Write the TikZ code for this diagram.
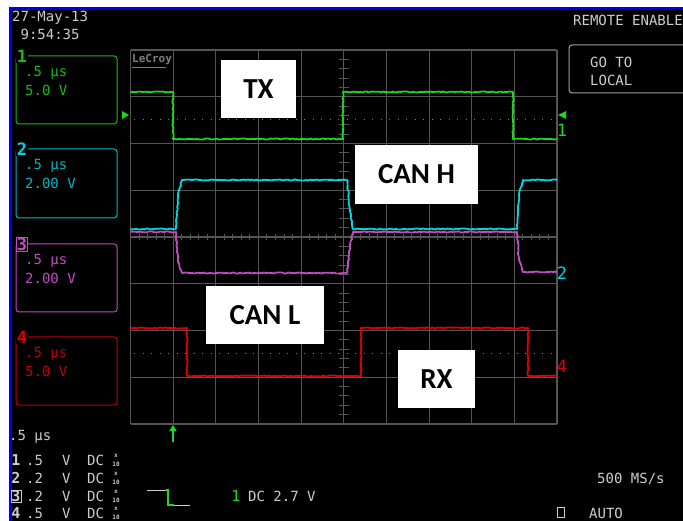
\documentclass[tikz,border=0pt]{standalone}
\usepackage{fontspec}
\setmainfont{Carlito}
\newfontfamily\scopefont{DejaVu Sans Mono}
\usetikzlibrary{arrows.meta,decorations.pathmorphing}
\definecolor{scgreen}{RGB}{30,215,30}
\definecolor{scgreentxt}{RGB}{20,190,20}
\definecolor{sccyan}{RGB}{0,215,225}
\definecolor{scmag}{RGB}{195,75,195}
\definecolor{scred}{RGB}{225,0,0}
\definecolor{scgrid}{RGB}{85,85,85}
\definecolor{sctext}{RGB}{205,205,205}
\definecolor{scblue}{RGB}{0,0,235}
\begin{document}
\begin{tikzpicture}[x=1pt,y=-1pt,
  scopetxt/.style={font=\scopefont\fontsize{14}{14}\selectfont, inner sep=0pt, anchor=west, text=sctext},
  chlabel/.style={font=\scopefont\bfseries\fontsize{17}{17}\selectfont, inner sep=0.6pt, fill=black},
  chbox/.style={rounded corners=3pt, line width=1pt},
  gridline/.style={draw=scgrid, line width=1.1pt},
  tickline/.style={draw=scgrid, line width=1pt},
  trace/.style={line width=1.8pt, line join=round, decorate, decoration={random steps, segment length=2pt, amplitude=0.6pt}},
  sigbox/.style={fill=white, inner sep=0pt, font=\bfseries\fontsize{29}{29}\selectfont, text=black},
  refdots/.style={draw=gray, line width=1pt, dash pattern=on 1pt off 7.5pt},
  tinytxt/.style={font=\scopefont\bfseries\fontsize{6}{6}\selectfont, inner sep=0pt, text=sctext},
]
\pgfmathsetseed{7}
\useasboundingbox (0,0) rectangle (683,521);
\fill[white] (0,0) rectangle (683,521);
\fill[black] (12,10) rectangle (683,521);
\fill[scblue] (9,7) rectangle (683,10);
\fill[scblue] (9,7) rectangle (12,521);

% grid
\foreach \i in {0,...,10} \draw[gridline] ({130.5+42.65*\i},50) -- ({130.5+42.65*\i},424);
\foreach \j in {0,...,8} \draw[gridline] (130.5,{50+46.75*\j}) -- (557,{50+46.75*\j});
\foreach \k in {1,...,49} \draw[tickline] ({130.5+8.53*\k},234) -- ++(0,6);
\foreach \k in {1,...,39} \draw[tickline] (338.75,{50+9.35*\k}) -- ++(10,0);

% reference dotted levels
\draw[refdots] (134,120) -- (557,120);
\draw[refdots] (134,354) -- (557,354);

% LeCroy logo
\node[font=\scopefont\bfseries\fontsize{11}{11}\selectfont, text=gray, inner sep=0pt, anchor=west] (logo) at (132,60) {LeCroy};
\draw[gray, line width=1pt] (132,68) -- (166,68);

% traces
\draw[trace, scgreen] (130.5,92) -- (173,92) -- (173,139) -- (343,139) -- (343,92) -- (513,92) -- (513,139) -- (557,139);
\draw[trace, scmag] (130.5,232) -- (176,232) -- (178,262) -- (182,273) -- (347,273) -- (350,245) -- (353,232) -- (517,232) -- (519,260) -- (523,272) -- (557,272);
\draw[trace, sccyan] (130.5,229) -- (176,229) -- (178,195) -- (182,180) -- (347,180) -- (350,210) -- (353,229) -- (517,229) -- (519,195) -- (523,180) -- (557,180);
\draw[trace, scred] (130.5,328) -- (187,328) -- (187,376) -- (361,376) -- (361,328) -- (528,328) -- (528,376) -- (557,376);

% trace markers
\fill[scgreen] (122,111) -- (129,115) -- (122,119) -- cycle;
\fill[scgreen] (566,111) -- (558,115) -- (566,119) -- cycle;
\node[font=\scopefont\fontsize{17}{17}\selectfont, text=scgreen, inner sep=0pt] (m1) at (562,130) {1};
\node[font=\scopefont\fontsize{17}{17}\selectfont, text=sccyan, inner sep=0pt] (m2) at (562,273) {2};
\node[font=\scopefont\fontsize{17}{17}\selectfont, text=scred, inner sep=0pt] (m4) at (562,366) {4};
\draw[-{Triangle[width=7pt,length=6pt]}, scgreen, line width=2.2pt] (173,442) -- (173,425);

% signal labels
\node[sigbox, minimum width=75pt, minimum height=58pt] (tx) at (258.5,89) {TX};
\node[sigbox, minimum width=123pt, minimum height=59pt] (canh) at (416.5,174.5) {CAN H};
\node[sigbox, minimum width=118pt, minimum height=58pt] (canl) at (265,315) {CAN L};
\node[sigbox, minimum width=77pt, minimum height=58pt] (rx) at (436.5,379) {RX};

% date / time
\node[scopetxt] (date) at (12,18) {27-May-13};
\node[scopetxt] (time) at (20.4,34) {9:54:35};

% channel boxes
\draw[chbox, scgreentxt] (16,56) rectangle (117,124);
\node[chlabel, text=scgreentxt] (c1) at (22,56) {1};
\node[scopetxt, text=scgreentxt] (c1a) at (25,73) {.5 μs};
\node[scopetxt, text=scgreentxt] (c1b) at (25,90) {5.0 V};

\draw[chbox, sccyan!85!black] (16,149) rectangle (117,218);
\node[chlabel, text=sccyan] (c2) at (22,149) {2};
\node[scopetxt, text=sccyan!85!black] (c2a) at (25,166) {.5 μs};
\node[scopetxt, text=sccyan!85!black] (c2b) at (25,183) {2.00 V};

\draw[chbox, scmag] (16,244) rectangle (117,312);
\node[chlabel, text=scmag, draw=scmag, line width=0.8pt, inner sep=0.5pt] (c3) at (22,244) {3};
\node[scopetxt, text=scmag] (c3a) at (25,261) {.5 μs};
\node[scopetxt, text=scmag] (c3b) at (25,278) {2.00 V};

\draw[chbox, scred!85!black] (16,337) rectangle (117,405);
\node[chlabel, text=scred] (c4) at (22,337) {4};
\node[scopetxt, text=scred!85!black] (c4a) at (25,354) {.5 μs};
\node[scopetxt, text=scred!85!black] (c4b) at (25,371) {5.0 V};

% remote / go to local
\node[scopetxt] (remote) at (573,20) {REMOTE ENABLE};
\draw[chbox, sctext!80!black] (569,45) rectangle (695,93);
\node[scopetxt] (goto) at (590,62) {GO TO};
\node[scopetxt] (local) at (590,80) {LOCAL};

% bottom status
\node[scopetxt] (tb) at (9,437) {.5 μs};
\foreach \n/\v/\y in {1/.5/460,2/.2/478,4/.5/513} {
  \node[font=\scopefont\bfseries\fontsize{15}{15}\selectfont, text=sctext, inner sep=0pt] (r\n) at (16,\y) {\n};
}
\node[font=\scopefont\bfseries\fontsize{15}{15}\selectfont, text=sctext, inner sep=0.4pt, draw=sctext, line width=0.7pt] (r3) at (16,496) {3};
\foreach \n/\v/\y in {1/.5/460,2/.2/478,3/.2/496,4/.5/513} {
  \node[scopetxt] (rv\n) at (26,\y) {\v};
  \node[scopetxt] (ru\n) at (62,\y) {V};
  \node[scopetxt] (rc\n) at (87,\y) {DC};
  \node[tinytxt] (rx\n) at (116,{\y-4}) {x};
  \node[tinytxt] (rt\n) at (116,{\y+4}) {10};
}
\draw[sctext, line width=1pt] (147,490) -- (166,490);
\draw[scgreen, line width=1.5pt] (166,490) -- (168,490) -- (168,505) -- (174,505);
\draw[sctext, line width=1pt] (174,505) -- (190,505);
\node[font=\scopefont\fontsize{15}{15}\selectfont, text=scgreen, inner sep=0pt] (trg) at (236,496) {1};
\node[scopetxt] (trgtxt) at (248,496) {DC 2.7 V};
\node[scopetxt] (rate) at (597,479) {500 MS/s};
\draw[sctext, line width=0.9pt] (557.5,507) rectangle (564.5,517);
\node[scopetxt] (auto) at (589,513) {AUTO};
\end{tikzpicture}
\end{document}
